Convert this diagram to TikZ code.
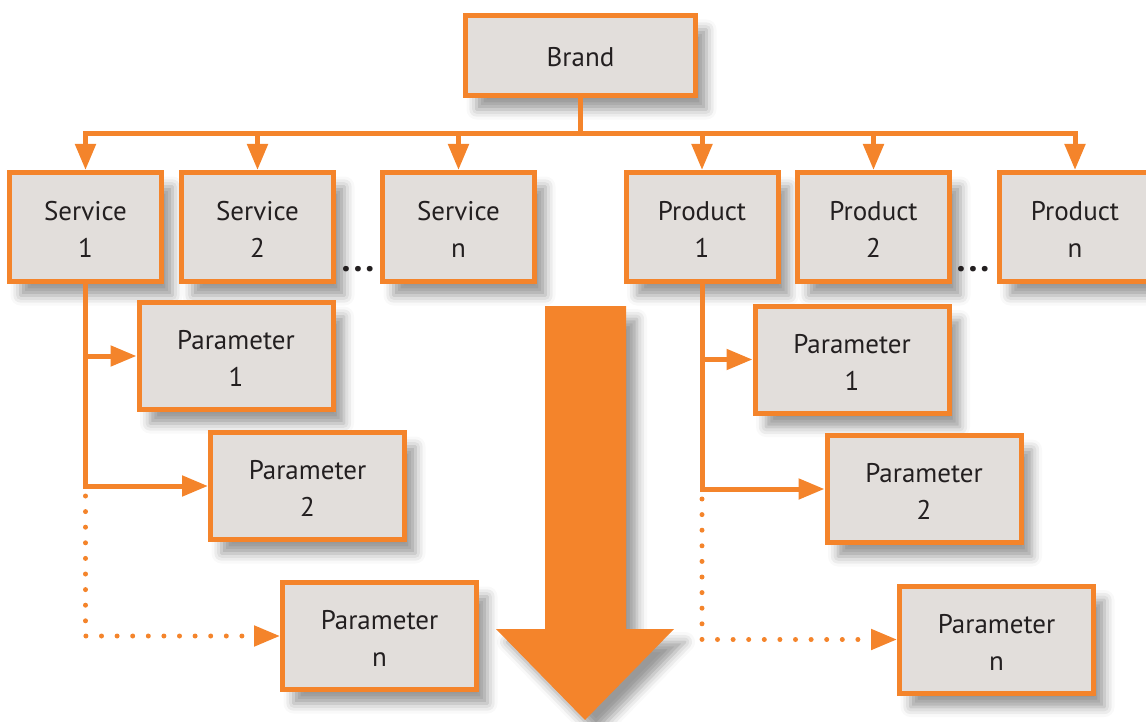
\documentclass[tikz,border=0pt]{standalone}
\usepackage{fontspec}
\setmainfont{PT Sans}
\usetikzlibrary{arrows.meta,shadows.blur,calc}
\definecolor{brandorange}{HTML}{F4842B}
\definecolor{boxgray}{HTML}{E2DEDB}
\definecolor{inkdark}{HTML}{231F20}

\tikzset{
  box/.style={draw=brandorange, line width=5pt, fill=boxgray, text=inkdark,
    align=center, inner sep=0pt, text height=61.5pt,
    blur shadow={shadow xshift=11pt, shadow yshift=-14pt,
                 shadow blur radius=10pt, shadow opacity=40},
    font=\fontsize{27}{37}\selectfont},
  topbox/.style={box, minimum width=152pt, minimum height=109pt},
  parbox/.style={box, minimum width=194pt, minimum height=107pt},
  link/.style={draw=brandorange, line width=5pt, line cap=rect, line join=miter},
  arr/.style={link, -{Triangle[length=26pt,width=20pt]}},
  dotlink/.style={draw=brandorange, line width=5pt, line cap=round,
    dash pattern=on 0pt off 15.6pt, -{Triangle[length=26pt,width=20pt]}},
  ellipsis/.style={text=inkdark, inner sep=0pt,
    font=\bfseries\fontsize{36}{36}\selectfont},
  bigarrow/.style={fill=brandorange,
    blur shadow={shadow xshift=11pt, shadow yshift=-13pt,
                 shadow blur radius=10pt, shadow opacity=40}}
}

\begin{document}
\begin{tikzpicture}[x=1pt,y=-1pt]
  \useasboundingbox (0,0) rectangle (1146,722);
  \clip (0,0) rectangle (1146,722);

  % top of the hierarchy
  \node[box, minimum width=230pt, minimum height=80pt, text height=22pt]
    (brand) at (580.5,55.5) {Brand};

  % services and products
  \node[topbox] (s1) at (85.5,227)  {Service\\1};
  \node[topbox] (s2) at (257.5,227) {Service\\2};
  \node[topbox] (sn) at (458.5,227) {Service\\n};
  \node[topbox] (p1) at (702,227)   {Product\\1};
  \node[topbox] (p2) at (873.5,227) {Product\\2};
  \node[topbox] (pn) at (1075,227)  {Product\\n};

  \node[ellipsis] (sdots) at (358,269) {.\kern3pt.\kern3pt.};
  \node[ellipsis] (pdots) at (973,269) {.\kern3pt.\kern3pt.};

  % parameters of service 1
  \node[parbox] (sp1) at (236,356)   {Parameter\\1};
  \node[parbox] (sp2) at (307.5,486) {Parameter\\2};
  \node[parbox] (spn) at (379.5,636) {Parameter\\n};

  % parameters of product 1
  \node[parbox] (pp1) at (852,359.5) {Parameter\\1};
  \node[parbox] (pp2) at (924,489)   {Parameter\\2};
  \node[parbox] (ppn) at (996.5,639.5) {Parameter\\n};

  % large downward arrow
  \path[bigarrow] (545,306) -- (626,306) -- (626,629) -- (674,629)
    -- (585,720) -- (496,629) -- (545,629) -- cycle;

  % distribution bus from the brand
  \coordinate (bus) at (580.5,134);
  \draw[link] (brand.south) -- (brand.south |- bus);
  \draw[link] (s1.north |- bus) -- (pn.north |- bus);
  \foreach \n in {s1,s2,sn,p1,p2,pn}
    \draw[arr] (\n.north |- bus) -- (\n.north);

  % service 1 branches
  \draw[link] (s1.south) -- (s1.south |- sp2.west);
  \draw[arr] (s1.south |- sp1.west) -- (sp1.west);
  \draw[arr] (s1.south |- sp2.west) -- (sp2.west);
  \draw[dotlink] ($(s1.south |- sp2.west)+(0,10)$) |- (spn.west);

  % product 1 branches
  \draw[link] (p1.south) -- (p1.south |- pp2.west);
  \draw[arr] (p1.south |- pp1.west) -- (pp1.west);
  \draw[arr] (p1.south |- pp2.west) -- (pp2.west);
  \draw[dotlink] ($(p1.south |- pp2.west)+(0,10)$) |- (ppn.west);
\end{tikzpicture}
\end{document}
